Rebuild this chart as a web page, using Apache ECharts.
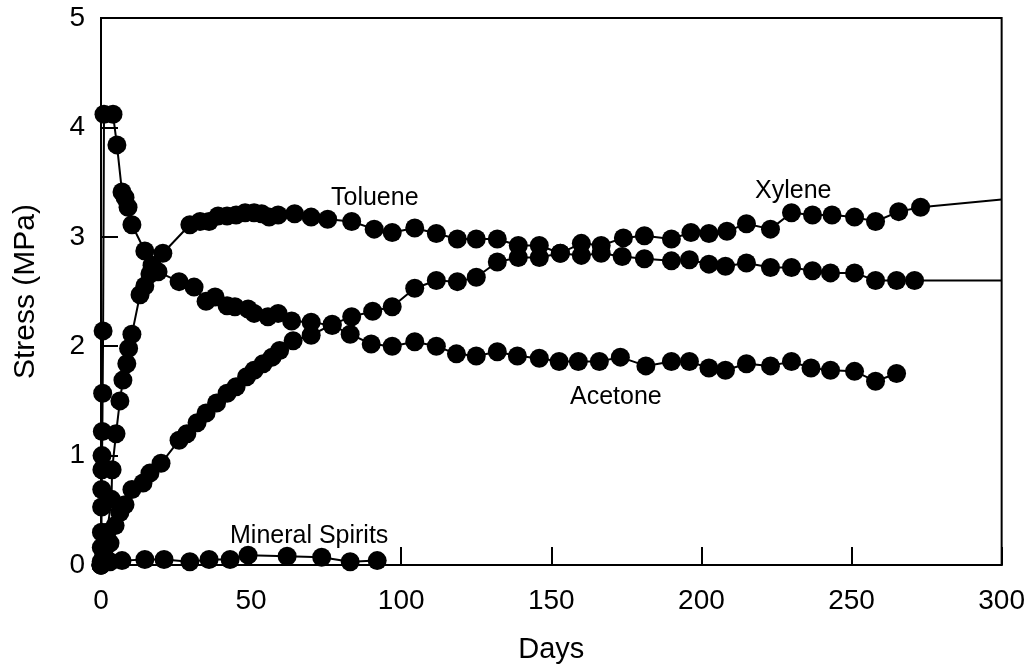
<!DOCTYPE html>
<html>
<head>
<meta charset="utf-8">
<script src="https://cdn.jsdelivr.net/npm/echarts@6/dist/echarts.min.js"></script>
<style>
html,body{margin:0;padding:0;background:#fff;}
#chart{width:1028px;height:669px;}
</style>
</head>
<body>
<div id="chart"></div>
<script>
// ---- Data ----
const xTicks = [0, 50, 100, 150, 200, 250, 300];
const yTicks = [0, 1, 2, 3, 4, 5];

const acetoneDays = [0, 0.05, 0.1, 0.15, 0.2, 0.25, 0.3, 0.35, 0.45, 0.55, 0.7, 1, 4, 5.3, 7, 8, 9, 10.3, 14.6, 17, 19, 26, 31, 35, 38, 42, 44.6, 49, 51, 55.6, 59, 63.5, 70, 77, 83, 90, 97, 104.5, 111.7, 118.4, 125, 132, 138.7, 146, 152.6, 159, 166, 173, 181.5, 190, 196, 202.5, 208, 215, 223, 230, 236.5, 243, 251, 258, 265];
const acetoneStress = [0, 0.03, 0.16, 0.3, 0.53, 0.69, 0.87, 1.0, 1.22, 1.57, 2.14, 4.12, 4.12, 3.84, 3.41, 3.36, 3.27, 3.11, 2.87, 2.74, 2.68, 2.59, 2.54, 2.41, 2.45, 2.37, 2.36, 2.34, 2.3, 2.27, 2.3, 2.23, 2.22, 2.19, 2.11, 2.02, 2.0, 2.04, 2.0, 1.93, 1.91, 1.95, 1.91, 1.89, 1.86, 1.86, 1.86, 1.9, 1.82, 1.86, 1.86, 1.8, 1.78, 1.84, 1.82, 1.86, 1.8, 1.78, 1.77, 1.68, 1.75];

const tolueneDays = [0, 1, 2, 3.5, 3.7, 5, 6.3, 7.3, 8.6, 9.2, 10.3, 13, 14.6, 16.3, 20.6, 29.6, 33, 36, 39, 42, 45, 48, 51, 53.5, 56, 59, 64.5, 70, 75.5, 83.5, 91, 97, 104.5, 111.7, 118.7, 125, 132, 139, 146, 153, 160, 166.6, 173.6, 181, 190, 196, 202.5, 208, 215, 223, 230, 237, 243, 251, 258, 265, 271];
const tolueneStress = [0, 0.1, 0.3, 0.6, 0.87, 1.2, 1.5, 1.69, 1.84, 1.98, 2.11, 2.47, 2.55, 2.66, 2.85, 3.11, 3.14, 3.14, 3.19, 3.19, 3.2, 3.22, 3.22, 3.21, 3.18, 3.2, 3.21, 3.18, 3.16, 3.14, 3.07, 3.04, 3.08, 3.03, 2.98, 2.98, 2.98, 2.92, 2.92, 2.85, 2.83, 2.85, 2.82, 2.8, 2.78, 2.79, 2.75, 2.73, 2.76, 2.72, 2.72, 2.69, 2.67, 2.67, 2.6, 2.6, 2.6];
const tolueneEnd = [300, 2.6];

const xyleneDays = [0, 1, 3, 4.7, 6.3, 8, 10.3, 14, 16.3, 20, 26, 28.6, 32, 35, 38.5, 42, 45, 48.5, 51, 54, 57, 59.5, 64, 70, 77, 83.5, 90.5, 97, 104.5, 111.7, 118.7, 125, 132, 139, 146, 153, 160, 166.6, 174, 181, 190, 196.5, 202.5, 208.5, 215, 223, 230, 237, 243.5, 251, 258, 265.7, 273];
const xyleneStress = [0, 0.08, 0.2, 0.36, 0.48, 0.55, 0.69, 0.75, 0.84, 0.93, 1.14, 1.2, 1.3, 1.39, 1.48, 1.57, 1.63, 1.72, 1.78, 1.84, 1.9, 1.96, 2.05, 2.1, 2.2, 2.27, 2.32, 2.36, 2.53, 2.6, 2.59, 2.63, 2.77, 2.81, 2.81, 2.85, 2.94, 2.92, 2.99, 3.01, 2.98, 3.04, 3.03, 3.05, 3.12, 3.07, 3.22, 3.2, 3.2, 3.18, 3.14, 3.23, 3.27];
const xyleneEnd = [300, 3.34];

const mineralDays = [0, 0.5, 3, 7, 14.6, 21, 29.6, 36, 43, 49, 62, 73.5, 83, 92];
const mineralStress = [0, 0.02, 0.03, 0.04, 0.05, 0.05, 0.03, 0.05, 0.05, 0.09, 0.08, 0.07, 0.03, 0.04];

const seriesLabels = ['Toluene', 'Xylene', 'Acetone', 'Mineral Spirits'];

// ---- Build ----
function pairs(xs, ys) { return xs.map((x, i) => [x, ys[i]]); }
function withEnd(data, end) {
  data.push({ value: end, symbol: 'none' });
  return data;
}
const FONT = '"Liberation Sans", Arial, Helvetica, sans-serif';
function mkSeries(name, data) {
  return {
    name, type: 'line', data,
    symbol: 'circle', symbolSize: 19,
    itemStyle: { color: '#000' },
    lineStyle: { color: '#000', width: 2 },
    showAllSymbol: true,
    silent: true,
    z: 3
  };
}

const chart = echarts.init(document.getElementById('chart'), null, { renderer: 'canvas' });
chart.setOption({
  animation: false,
  backgroundColor: '#fff',
  grid: { left: 101, right: 25, top: 18, bottom: 96, show: true, borderColor: '#000', borderWidth: 2, backgroundColor: 'transparent' },
  xAxis: {
    type: 'value', min: 0, max: 300, interval: 50,
    name: 'Days', nameLocation: 'middle', nameGap: 70,
    nameTextStyle: { fontFamily: FONT, fontSize: 29, color: '#000' },
    axisLine: { lineStyle: { color: '#000', width: 2 } },
    axisTick: { inside: true, length: 18, lineStyle: { color: '#000', width: 2 } },
    axisLabel: { fontFamily: FONT, fontSize: 28, color: '#000', margin: 22,
      formatter: v => xTicks.includes(v) ? String(v) : '' },
    splitLine: { show: false }
  },
  yAxis: {
    type: 'value', min: 0, max: 5, interval: 1,
    name: 'Stress (MPa)', nameLocation: 'middle', nameGap: 60, nameRotate: 90,
    nameTextStyle: { fontFamily: FONT, fontSize: 30, color: '#000' },
    axisLine: { lineStyle: { color: '#000', width: 2 } },
    axisTick: { inside: true, length: 17, lineStyle: { color: '#000', width: 2 } },
    axisLabel: { fontFamily: FONT, fontSize: 28, color: '#000', margin: 16,
      formatter: v => yTicks.includes(v) ? String(v) : '' },
    splitLine: { show: false }
  },
  series: [
    mkSeries('Mineral Spirits', pairs(mineralDays, mineralStress)),
    mkSeries('Acetone', pairs(acetoneDays, acetoneStress)),
    mkSeries('Xylene', withEnd(pairs(xyleneDays, xyleneStress), xyleneEnd)),
    mkSeries('Toluene', withEnd(pairs(tolueneDays, tolueneStress), tolueneEnd))
  ],
  graphic: [
    { type: 'text', left: 331, top: 186, style: { text: seriesLabels[0], font: '25px ' + FONT, fill: '#000' } },
    { type: 'text', left: 755, top: 179, style: { text: seriesLabels[1], font: '25px ' + FONT, fill: '#000' } },
    { type: 'text', left: 570, top: 385, style: { text: seriesLabels[2], font: '25px ' + FONT, fill: '#000' } },
    { type: 'text', left: 230, top: 524, style: { text: seriesLabels[3], font: '25px ' + FONT, fill: '#000' } }
  ]
});
</script>
</body>
</html>
